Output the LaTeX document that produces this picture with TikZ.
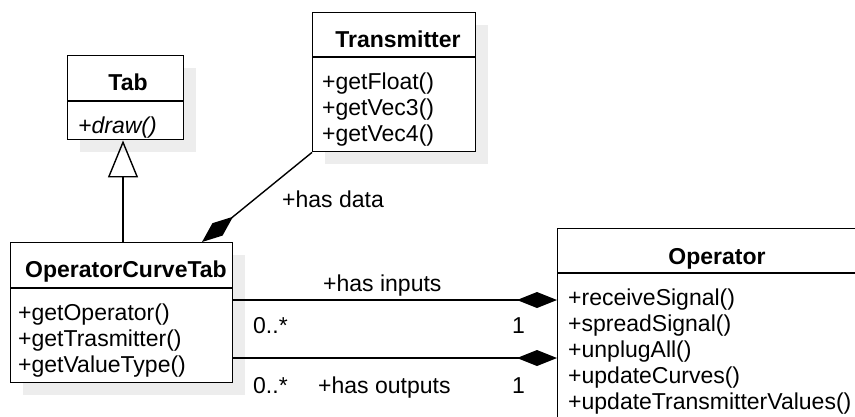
\documentclass[tikz,border=0pt]{standalone}
\usepackage{fontspec}
\setmainfont{Liberation Sans}
\usetikzlibrary{arrows.meta,shadows}
\begin{document}
\begin{tikzpicture}[x=1pt,y=-1pt,
  classbox/.style={draw, line width=1.4pt, fill=white, rectangle, inner sep=0pt, anchor=north west,
    drop shadow={shadow xshift=12pt, shadow yshift=-12pt, opacity=1, fill=black!7, draw=none}},
  conn/.style={line width=1.4pt},
  title/.style={font=\fontsize{23}{26}\selectfont\bfseries, anchor=base, inner sep=0pt},
  member/.style={font=\fontsize{23}{26}\selectfont, anchor=base west, inner sep=0pt},
  lbl/.style={font=\fontsize{23}{26}\selectfont, anchor=base west, inner sep=0pt},
  comp/.style={Diamond[length=40pt, width=16pt]},
  inh/.style={Triangle[open, length=37pt, width=30pt, line width=1.4pt]}]
\useasboundingbox (0,0) rectangle (855,416);
\clip (0,0) rectangle (855,416);

% class boxes
\node[classbox, minimum width=116pt, minimum height=84pt] (tab) at (67,55) {};
\node[classbox, minimum width=163pt, minimum height=139pt] (trans) at (312,12) {};
\node[classbox, minimum width=222pt, minimum height=140pt] (oct) at (10,242) {};
\node[classbox, minimum width=400pt, minimum height=250pt] (op) at (557,228) {};

% dividers
\draw[conn] (tab.west |- 0,101) -- (tab.east |- 0,101);
\draw[conn] (trans.west |- 0,57) -- (trans.east |- 0,57);
\draw[conn] (oct.west |- 0,288) -- (oct.east |- 0,288);
\draw[conn] (op.west |- 0,273) -- (op.east |- 0,273);

% titles
\node[title] (tabT) at (128,90) {Tab};
\node[title] (transT) at (398,47) {Transmitter};
\node[title] (octT) at (126,277) {OperatorCurveTab};
\node[title] (opT) at (717,264) {Operator};

% members
\node[member] (tab1) at (78,133) {\itshape +draw()};
\node[member] (tr1) at (322,89) {+getFloat()};
\node[member] (tr2) at (322,115) {+getVec3()};
\node[member] (tr3) at (322,141) {+getVec4()};
\node[member] (oc1) at (18,320) {+getOperator()};
\node[member] (oc2) at (18,346) {+getTrasmitter()};
\node[member] (oc3) at (18,372) {+getValueType()};
\node[member] (op1) at (568,305) {+receiveSignal()};
\node[member] (op2) at (568,331) {+spreadSignal()};
\node[member] (op3) at (568,357) {+unplugAll()};
\node[member] (op4) at (568,383) {+updateCurves()};
\node[member] (op5) at (568,409) {+updateTransmitterValues()};

% connectors
\draw[conn, -{Triangle[open, length=37pt, width=30pt, line width=1.4pt]}] (oct.north -| 123,0) -- (tab.south -| 123,0);
\draw[conn, {Diamond[length=40pt, width=16pt]}-] (oct.north -| 202,0) -- (trans.south west);
\draw[conn, -{Diamond[length=40pt, width=16pt]}] (oct.east |- 0,300) -- (op.west |- 0,300);
\draw[conn, -{Diamond[length=40pt, width=16pt]}] (oct.east |- 0,358) -- (op.west |- 0,358);

% labels
\node[lbl] (l1) at (282,207) {+has data};
\node[lbl] (l2) at (323,291) {+has inputs};
\node[lbl] (l3) at (253,333) {0..*};
\node[lbl] (l4) at (512,333) {1};
\node[lbl] (l5) at (253,393) {0..*};
\node[lbl] (l6) at (318,393) {+has outputs};
\node[lbl] (l7) at (512,393) {1};
\end{tikzpicture}
\end{document}
